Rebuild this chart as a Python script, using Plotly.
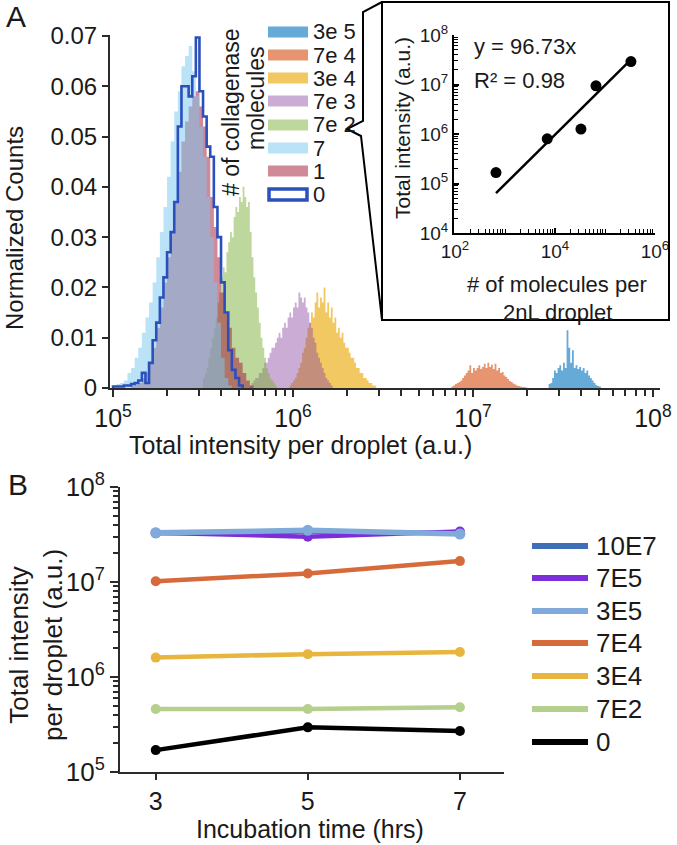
import plotly.graph_objects as go

W, H = 677, 845
def px(x): return x / W
def py(y): return 1 - y / H

FONT = "Liberation Sans, Arial, sans-serif"
TXT = "#1a1a1a"
AX = "#2b2b2b"

# ---------------- Panel A: histograms (log10 bin start, log10 bin width, normalized counts)
hist_names = ["3e 5", "7e 4", "3e 4", "7e 3", "7e 2", "7", "1", "0"]

h3e5_start, h3e5_w = 7.42, 0.01
h3e5_counts = [0.0008, 0.001, 0.002, 0.0035, 0.003, 0.004, 0.0045, 0.0035, 0.005, 0.004,
               0.0115, 0.008, 0.005, 0.0075, 0.004, 0.0045, 0.0038, 0.0042, 0.0035, 0.004,
               0.003, 0.0035, 0.0025, 0.002, 0.0015, 0.001, 0.0006, 0.0004, 0.0003]

h7e4_start, h7e4_w = 6.88, 0.01
h7e4_counts = [0.0003, 0.0005, 0.0008, 0.001, 0.0012, 0.0015, 0.002, 0.0025, 0.003, 0.0035,
               0.0045, 0.003, 0.004, 0.0035, 0.004, 0.0045, 0.0038, 0.0042, 0.0048, 0.004,
               0.005, 0.0042, 0.0046, 0.0038, 0.0048, 0.0035, 0.004, 0.003, 0.0032, 0.0025,
               0.0022, 0.0018, 0.0014, 0.0012, 0.0009, 0.0007, 0.0005, 0.0004, 0.0003, 0.0002,
               0.0002, 0.0001]

h3e4_start, h3e4_w = 5.98, 0.01
h3e4_counts = [0.0005, 0.001, 0.0015, 0.002, 0.003, 0.004, 0.005, 0.007, 0.008, 0.010,
               0.012, 0.013, 0.015, 0.014, 0.017, 0.019, 0.016, 0.018, 0.017, 0.020,
               0.015, 0.017, 0.014, 0.016, 0.013, 0.014, 0.011, 0.012, 0.010, 0.011,
               0.009, 0.008, 0.008, 0.007, 0.006, 0.006, 0.005, 0.004, 0.004, 0.003,
               0.003, 0.002, 0.002, 0.0015, 0.001, 0.001, 0.0005, 0.0005]

h7e3_start, h7e3_w = 5.76, 0.01
h7e3_counts = [0.0005, 0.001, 0.0015, 0.002, 0.002, 0.003, 0.003, 0.004, 0.005, 0.005,
               0.006, 0.007, 0.008, 0.008, 0.009, 0.010, 0.011, 0.010, 0.012, 0.013,
               0.012, 0.014, 0.015, 0.014, 0.016, 0.017, 0.016, 0.019, 0.018, 0.017,
               0.018, 0.016, 0.015, 0.013, 0.012, 0.010, 0.009, 0.007, 0.006, 0.005,
               0.004, 0.003, 0.002, 0.0015, 0.001, 0.0005]

h7e2_start, h7e2_w = 5.50, 0.01
h7e2_counts = [0.002, 0.003, 0.004, 0.006, 0.008, 0.010, 0.012, 0.014, 0.017, 0.019,
               0.022, 0.024, 0.023, 0.027, 0.029, 0.031, 0.030, 0.034, 0.036, 0.035,
               0.038, 0.037, 0.040, 0.038, 0.036, 0.037, 0.031, 0.026, 0.022, 0.019,
               0.016, 0.013, 0.010, 0.008, 0.006, 0.004, 0.003, 0.002, 0.0015, 0.001,
               0.0005]

h7_start, h7_w = 5.00, 0.02
h7_counts = [0.0005, 0.0008, 0.001, 0.0015, 0.003, 0.004, 0.006, 0.008, 0.011, 0.014,
             0.017, 0.021, 0.026, 0.031, 0.036, 0.042, 0.049, 0.055, 0.059, 0.064,
             0.066, 0.068, 0.063, 0.058, 0.052, 0.046, 0.038, 0.030, 0.021, 0.013,
             0.006, 0.002, 0.0005]

h1_start, h1_w = 5.10, 0.02
h1_counts = [0.0005, 0.0007, 0.001, 0.002, 0.003, 0.005, 0.008, 0.012, 0.016, 0.021,
             0.026, 0.031, 0.037, 0.043, 0.049, 0.053, 0.056, 0.058, 0.059, 0.056,
             0.052, 0.046, 0.038, 0.032, 0.026, 0.019, 0.015, 0.012, 0.008, 0.006,
             0.005, 0.003, 0.0015, 0.0005]

h0_start, h0_w = 5.00, 0.02
h0_counts = [0.0003, 0.0003, 0.0003, 0.0005, 0.0005, 0.0008, 0.001, 0.0015, 0.003, 0.001,
             0.005, 0.0095, 0.013, 0.018, 0.022, 0.027, 0.031, 0.037, 0.052, 0.060,
             0.060, 0.058, 0.062, 0.0697, 0.059, 0.054, 0.048, 0.046, 0.036, 0.030,
             0.021, 0.015, 0.0075, 0.0036, 0.002, 0.0005]

hist_colors = ["rgba(0,114,189,0.6)", "rgba(217,83,25,0.62)", "rgba(237,177,32,0.7)",
               "rgba(140,70,160,0.45)", "rgba(119,172,48,0.48)", "rgba(125,202,240,0.52)",
               "rgba(162,20,47,0.5)", "#2B50BE"]

# ---------------- Inset data
inset_x = [660, 7000, 3.3e4, 6.6e4, 3.3e5]
inset_y = [1.66e5, 8.0e5, 1.26e6, 9.4e6, 2.9e7]
fit_slope = 96.73
fit_x = [660, 3.3e5]

# ---------------- Panel B data
b_hours = [3, 5, 7]
b_names = ["10E7", "7E5", "3E5", "7E4", "3E4", "7E2", "0"]
b_10E7 = [3.25e7, 3.4e7, 3.25e7]
b_7E5 = [3.3e7, 3.0e7, 3.4e7]
b_3E5 = [3.3e7, 3.5e7, 3.2e7]
b_7E4 = [1.02e7, 1.23e7, 1.66e7]
b_3E4 = [1.6e6, 1.74e6, 1.83e6]
b_7E2 = [4.6e5, 4.6e5, 4.8e5]
b_0 = [1.7e5, 2.95e5, 2.7e5]
b_values = [b_10E7, b_7E5, b_3E5, b_7E4, b_3E4, b_7E2, b_0]
b_colors = ["#3F6FB6", "#7B2FD8", "#7FAAD9", "#D66A3A", "#E8B53E", "#B5CF8C", "#000000"]

fig = go.Figure()


def step_xy(start, w, counts):
    xs = [10 ** (start + i * w) for i in range(len(counts) + 1)]
    x = [xs[0]] + xs
    y = [0] + list(counts) + [0]
    return x, y


hists = [(h3e5_start, h3e5_w, h3e5_counts), (h7e4_start, h7e4_w, h7e4_counts),
         (h3e4_start, h3e4_w, h3e4_counts), (h7e3_start, h7e3_w, h7e3_counts),
         (h7e2_start, h7e2_w, h7e2_counts), (h1_start, h1_w, h1_counts),
         (h7_start, h7_w, h7_counts)]
hist_order_names = ["3e 5", "7e 4", "3e 4", "7e 3", "7e 2", "1", "7"]
hist_order_colors = [hist_colors[0], hist_colors[1], hist_colors[2], hist_colors[3],
                     hist_colors[4], hist_colors[6], hist_colors[5]]
for (s, w, c), nm, col in zip(hists, hist_order_names, hist_order_colors):
    x, y = step_xy(s, w, c)
    fig.add_trace(go.Scatter(x=x, y=y, mode="lines", line=dict(width=0, shape="hv"),
                             fill="tozeroy", fillcolor=col, name=nm,
                             xaxis="x", yaxis="y", hoverinfo="skip"))
x0, y0 = step_xy(h0_start, h0_w, h0_counts)
fig.add_trace(go.Scatter(x=x0, y=y0, mode="lines", line=dict(width=2.6, shape="hv", color=hist_colors[7]),
                         name="0", xaxis="x", yaxis="y"))

# inset
fig.add_trace(go.Scatter(x=fit_x, y=[fit_slope * v for v in fit_x], mode="lines",
                         line=dict(color="black", width=2.5), xaxis="x3", yaxis="y3"))
fig.add_trace(go.Scatter(x=inset_x, y=inset_y, mode="markers",
                         marker=dict(color="black", size=11), xaxis="x3", yaxis="y3"))

# panel B
for nm, vals, col in zip(b_names, b_values, b_colors):
    fig.add_trace(go.Scatter(x=b_hours, y=vals, mode="lines+markers", name=nm,
                             line=dict(color=col, width=4.5 if nm != "3E5" else 5.5),
                             marker=dict(color=col, size=10 if nm != "3E5" else 11),
                             xaxis="x2", yaxis="y2"))

sup = lambda e: "10<sup>%d</sup>" % e

axis_common = dict(showline=True, linecolor=AX, linewidth=2, showgrid=False, zeroline=False,
                   tickcolor=AX, tickwidth=2, automargin=False, ticklabeloverflow="allow")

fig.update_layout(
    width=W, height=H, margin=dict(l=0, r=0, t=0, b=0, pad=0, autoexpand=False),
    paper_bgcolor="white", plot_bgcolor="rgba(0,0,0,0)", showlegend=False,
    font=dict(family=FONT, color=TXT),
    xaxis=dict(type="log", domain=[px(110), px(660)], range=[4.983, 8.039], anchor="y",
               ticks="outside", ticklen=7, tickvals=[1e5, 1e6, 1e7, 1e8],
               ticktext=[sup(5), sup(6), sup(7), sup(8)], tickfont=dict(size=25),
               minor=dict(ticks="outside", ticklen=6, tickwidth=1.5, dtick="D1", tickcolor=AX),
               **axis_common),
    yaxis=dict(domain=[py(388), py(35)], range=[0, 0.0702], anchor="x", ticks="outside",
               ticklen=6, dtick=0.01, tick0=0, tickfont=dict(size=24), **axis_common),
    xaxis2=dict(domain=[px(120), px(504)], range=[2.53, 7.58], anchor="y2",
                ticks="outside", ticklen=6, tickvals=b_hours, tickfont=dict(size=25), **axis_common),
    yaxis2=dict(type="log", domain=[py(772), py(487)], range=[5, 8], anchor="x2",
                ticks="outside", ticklen=8, tickvals=[1e5, 1e6, 1e7, 1e8],
                ticktext=[sup(5), sup(6), sup(7), sup(8)], tickfont=dict(size=26),
                minor=dict(ticks="outside", ticklen=5, tickwidth=1.5, dtick="D1", tickcolor=AX),
                **axis_common),
    xaxis3=dict(type="log", domain=[px(454), px(655)], range=[1.98, 6.0], anchor="y3",
                ticks="inside", ticklen=5, tickvals=[1e2, 1e4, 1e6],
                ticktext=[sup(2), sup(4), sup(6)], tickfont=dict(size=19),
                minor=dict(ticks="inside", ticklen=4, tickwidth=1, dtick="D1", tickcolor="black"),
                showline=True, linecolor="black", linewidth=2, showgrid=False, zeroline=False,
                tickcolor="black", tickwidth=1.5, automargin=False, ticklabeloverflow="allow"),
    yaxis3=dict(type="log", domain=[py(233), py(35)], range=[4, 8.0], anchor="x3",
                ticks="inside", ticklen=5, tickvals=[1e4, 1e5, 1e6, 1e7, 1e8],
                ticktext=[sup(4), sup(5), sup(6), sup(7), sup(8)], tickfont=dict(size=19),
                minor=dict(ticks="inside", ticklen=4, tickwidth=1, dtick="D1", tickcolor="black"),
                showline=True, linecolor="black", linewidth=2, showgrid=False, zeroline=False,
                tickcolor="black", tickwidth=1.5, automargin=False, ticklabeloverflow="allow"),
)

ann = []
def add_text(t, x, y, size, angle=0, xanchor="center", yanchor="middle"):
    ann.append(dict(text=t, x=px(x), y=py(y), xref="paper", yref="paper", showarrow=False,
                    font=dict(size=size, family=FONT, color=TXT), textangle=angle,
                    xanchor=xanchor, yanchor=yanchor))

add_text("A", 16, 16, 30)
add_text("B", 18, 484, 30)
add_text("Normalized Counts", 14, 228, 24, angle=-90)
add_text("Total intensity per droplet (a.u.)", 300, 445, 25)
add_text("# of collagenase", 231, 112, 23, angle=-90)
add_text("molecules", 256, 98, 23, angle=-90)

# panel A legend
legend_rows = [32, 55, 78, 101, 125, 148, 171, 194]
legend_colors = hist_colors
shapes = []
for nm, col, yy in zip(hist_names, legend_colors, legend_rows):
    if nm == "0":
        shapes.append(dict(type="rect", xref="paper", yref="paper", x0=px(269), x1=px(307),
                           y0=py(yy - 5), y1=py(yy + 6), fillcolor="white",
                           line=dict(color=col, width=3.5)))
    else:
        shapes.append(dict(type="rect", xref="paper", yref="paper", x0=px(268), x1=px(308),
                           y0=py(yy - 5.5), y1=py(yy + 5.5), fillcolor=col, line=dict(width=0)))
    add_text(nm, 311, yy, 22, xanchor="left")

# inset box and callout
shapes.append(dict(type="rect", xref="paper", yref="paper", x0=px(382), x1=px(669),
                   y0=py(320), y1=py(2), line=dict(color="black", width=2), fillcolor="rgba(0,0,0,0)"))
pts = [(382, 320), (361, 136), (347, 129), (363, 121), (363, 12), (382, 2)]
path = "M " + " L ".join("%f,%f" % (px(a), py(b)) for a, b in pts)
shapes.append(dict(type="path", xref="paper", yref="paper", path=path,
                   line=dict(color="black", width=2)))

add_text("y = 96.73x", 472, 47, 22, xanchor="left")
add_text("R² = 0.98", 472, 80, 22, xanchor="left")
add_text("Total intensity (a.u.)", 403, 128, 21, angle=-90)
add_text("# of molecules per", 557, 285, 22)
add_text("2nL droplet", 557, 312, 22)

# panel B titles
add_text("Total intensity<br>per droplet (a.u.)", 36, 645, 26, angle=-90)
add_text("Incubation time (hrs)", 310, 829, 25)

# panel B legend
b_rows = [546, 578, 611, 643, 676, 709, 742]
for nm, col, yy in zip(b_names, b_colors, b_rows):
    shapes.append(dict(type="line", xref="paper", yref="paper", x0=px(532), x1=px(588),
                       y0=py(yy), y1=py(yy), line=dict(color=col, width=6)))
    add_text(nm, 594, yy, 26, xanchor="left")

fig.update_layout(annotations=ann, shapes=shapes)
fig.write_html("out.html", config={"displayModeBar": False},
               post_script="document.body.style.margin='0';document.body.style.overflow='hidden';")
